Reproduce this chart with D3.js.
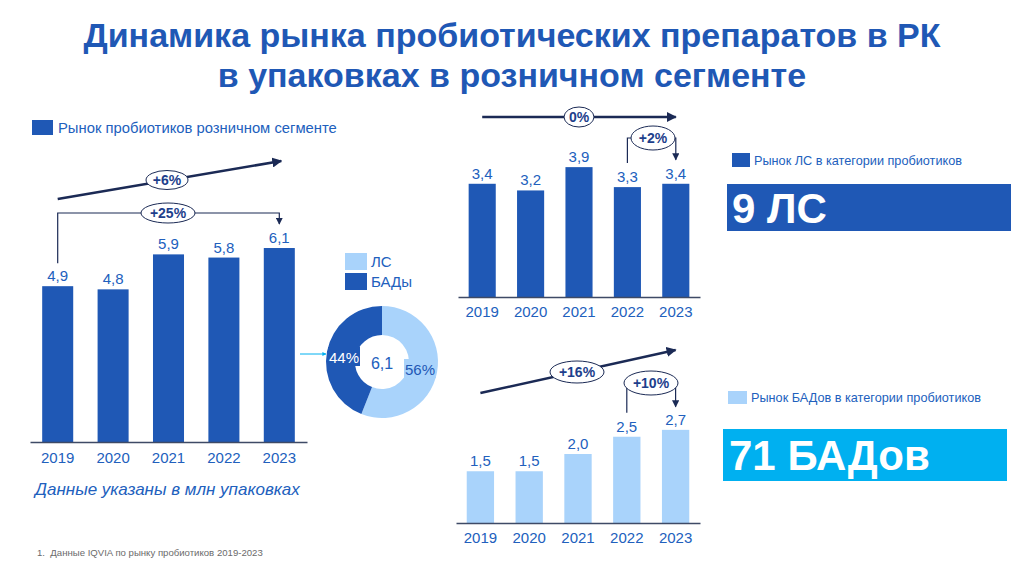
<!DOCTYPE html>
<html>
<head>
<meta charset="utf-8">
<script src="https://cdn.jsdelivr.net/npm/d3@7"></script>
<style>
  html, body { margin: 0; padding: 0; background: #fff; }
  svg { display: block; font-family: "Liberation Sans", Arial, sans-serif; }
</style>
</head>
<body>
<div id="chart"></div>
<script>
// Data
const years = ["2019", "2020", "2021", "2022", "2023"];
const totalValues = [4.9, 4.8, 5.9, 5.8, 6.1];
const lsValues = [3.4, 3.2, 3.9, 3.3, 3.4];
const badValues = [1.5, 1.5, 2.0, 2.5, 2.7];
const shareLabels = ["ЛС", "БАДы"];
const shareValues = [56, 44];
const shareCenter = "6,1";

const darkBlue = "#1f58b5";
const lightBlue = "#a9d3fb";
const textBlue = "#2160bd";
const navy = "#1b2a55";

const svg = d3.select("#chart")
    .append("svg")
    .attr("width", 1024)
    .attr("height", 566);

const defs = svg.append("defs");
function marker(id, color, size) {
    defs.append("marker")
        .attr("id", id)
        .attr("viewBox", "0 0 10 10")
        .attr("refX", 9).attr("refY", 5)
        .attr("markerWidth", size).attr("markerHeight", size)
        .attr("markerUnits", "strokeWidth")
        .attr("orient", "auto")
        .append("path")
        .attr("d", "M0,0 L10,5 L0,10 Z")
        .attr("fill", color);
}
marker("arrowNavy", navy, 4);
marker("arrowCyan", "#00b0f0", 4);
marker("arrowSmall", navy, 6);

// Title
const title = svg.append("g")
    .attr("text-anchor", "middle")
    .style("font-size", "34px")
    .style("font-weight", "bold")
    .style("fill", darkBlue);
title.append("text").attr("x", 512).attr("y", 47)
    .text("Динамика рынка пробиотических препаратов в РК");
title.append("text").attr("x", 512).attr("y", 87)
    .text("в упаковках в розничном сегменте");

// Bar chart helper
function barChart(opts) {
    const g = svg.append("g");
    const x = d3.scaleBand()
        .domain(years)
        .range(opts.xRange)
        .paddingInner(0.44)
        .paddingOuter(0.22);
    const y = d3.scaleLinear()
        .domain([0, opts.yMax])
        .range([opts.base, opts.base - opts.yMax * opts.unit]);

    g.selectAll("rect.bar")
        .data(opts.values)
        .join("rect")
        .attr("class", "bar")
        .attr("x", (d, i) => x(years[i]))
        .attr("width", x.bandwidth())
        .attr("y", d => y(d))
        .attr("height", d => y(0) - y(d))
        .attr("fill", opts.color);

    g.selectAll("text.val")
        .data(opts.values)
        .join("text")
        .attr("class", "val")
        .attr("x", (d, i) => x(years[i]) + x.bandwidth() / 2)
        .attr("y", d => y(d) - 5)
        .attr("text-anchor", "middle")
        .style("font-size", "15px")
        .style("fill", textBlue)
        .text(d => d3.format(".1f")(d).replace(".", ","));

    const axis = g.append("g")
        .attr("transform", `translate(0,${opts.base})`)
        .call(d3.axisBottom(x).tickSize(0).tickPadding(opts.tickPad));
    axis.select(".domain").attr("stroke", "#3e4a66").attr("stroke-width", 1.5);
    axis.selectAll("text")
        .style("font-size", "15px")
        .style("font-family", "Liberation Sans, Arial, sans-serif")
        .style("fill", textBlue);
    return { x, y };
}

function badge(cx, cy, rx, ry, label) {
    svg.append("ellipse")
        .attr("cx", cx).attr("cy", cy)
        .attr("rx", rx).attr("ry", ry)
        .attr("fill", "#fff")
        .attr("stroke", navy)
        .attr("stroke-width", 1);
    svg.append("text")
        .attr("x", cx).attr("y", cy + 5)
        .attr("text-anchor", "middle")
        .style("font-size", "14px")
        .style("font-weight", "bold")
        .style("fill", "#1d3f8c")
        .text(label);
}

function trendArrow(x1, y1, x2, y2) {
    svg.append("line")
        .attr("x1", x1).attr("y1", y1)
        .attr("x2", x2).attr("y2", y2)
        .attr("stroke", navy)
        .attr("stroke-width", 2.5)
        .attr("marker-end", "url(#arrowNavy)");
}

function bracket(xa, ya, xb, yb, top) {
    svg.append("path")
        .attr("d", `M${xa},${ya} V${top} H${xb} V${yb}`)
        .attr("fill", "none")
        .attr("stroke", navy)
        .attr("stroke-width", 1.2)
        .attr("marker-end", "url(#arrowSmall)");
}

// Left chart: total market
const left = barChart({
    values: totalValues, color: darkBlue,
    xRange: [30, 307], base: 442, unit: 31.8, yMax: 7, tickPad: 10
});
svg.append("rect").attr("x", 32).attr("y", 120).attr("width", 21).attr("height", 15).attr("fill", darkBlue);
svg.append("text").attr("x", 58).attr("y", 133)
    .style("font-size", "14.8px").style("fill", textBlue)
    .text("Рынок пробиотиков розничном сегменте");

const lx0 = left.x(years[0]) + left.x.bandwidth() / 2;
const lx4 = left.x(years[4]) + left.x.bandwidth() / 2;
trendArrow(lx0, 199, lx4 + 2, 161);
bracket(lx0, left.y(totalValues[0]) - 23, lx4, left.y(totalValues[4]) - 24, 213);
badge(167, 180, 21, 9.5, "+6%");
badge(168, 213, 27, 10, "+25%");

svg.append("text").attr("x", 35).attr("y", 495)
    .style("font-size", "17px").style("font-style", "italic").style("fill", textBlue)
    .text("Данные указаны в млн упаковках");
svg.append("text").attr("x", 37).attr("y", 556)
    .style("font-size", "9.6px").style("fill", "#6b6b6b")
    .attr("xml:space", "preserve")
    .text("1.  Данные IQVIA по рынку пробиотиков 2019-2023");

// Donut
const pieG = svg.append("g").attr("transform", "translate(382,362)");
const pie = d3.pie().sort(null)(shareValues);
const arc = d3.arc().innerRadius(27).outerRadius(56);
const shareColors = [lightBlue, darkBlue];
pieG.selectAll("path")
    .data(pie)
    .join("path")
    .attr("d", arc)
    .attr("fill", (d, i) => shareColors[i]);
pieG.append("text").attr("x", 0).attr("y", 7)
    .attr("text-anchor", "middle")
    .style("font-size", "16px").style("fill", textBlue)
    .text(shareCenter);
// slice labels
const lblPos = [[38, 7], [-38, -5]];
pie.forEach((d, i) => {
    const txt = shareValues[i] + "%";
    const [px, py] = lblPos[i];
    pieG.append("rect")
        .attr("x", px - 16).attr("y", py - 10)
        .attr("width", 32).attr("height", 19)
        .attr("fill", shareColors[i]);
    pieG.append("text")
        .attr("x", px).attr("y", py + 5.5)
        .attr("text-anchor", "middle")
        .style("font-size", "15px")
        .style("fill", i === 0 ? darkBlue : "#fff")
        .text(txt);
});
// donut legend
shareLabels.forEach((lab, i) => {
    svg.append("rect").attr("x", 345).attr("y", 253 + i * 20)
        .attr("width", 22).attr("height", 17).attr("fill", shareColors[i]);
    svg.append("text").attr("x", 371).attr("y", 267 + i * 20)
        .style("font-size", "15px").style("fill", textBlue)
        .text(lab);
});
svg.append("line")
    .attr("x1", 300).attr("y1", 354).attr("x2", 326).attr("y2", 354)
    .attr("stroke", "#00b0f0").attr("stroke-width", 1)
    .attr("marker-end", "url(#arrowCyan)");

// Top-right chart: LS
const ls = barChart({
    values: lsValues, color: darkBlue,
    xRange: [458, 700], base: 297, unit: 33.3, yMax: 4, tickPad: 9
});
const tx0 = ls.x(years[0]) + ls.x.bandwidth() / 2;
const tx3 = ls.x(years[3]) + ls.x.bandwidth() / 2;
const tx4 = ls.x(years[4]) + ls.x.bandwidth() / 2;
trendArrow(tx0, 117, tx4, 117);
bracket(tx3, ls.y(lsValues[3]) - 24, tx4, ls.y(lsValues[4]) - 24, 138);
badge(579, 117, 15, 10, "0%");
badge(653, 138, 22, 12, "+2%");

svg.append("rect").attr("x", 732).attr("y", 153).attr("width", 18).attr("height", 14).attr("fill", darkBlue);
svg.append("text").attr("x", 754).attr("y", 165)
    .style("font-size", "12.7px").style("fill", textBlue)
    .text("Рынок ЛС в категории пробиотиков");
svg.append("rect").attr("x", 727).attr("y", 184).attr("width", 284).attr("height", 47).attr("fill", darkBlue);
svg.append("text").attr("x", 732).attr("y", 223)
    .style("font-size", "42px").style("font-weight", "bold").style("fill", "#fff")
    .text("9 ЛС");

// Bottom-right chart: BAD
const bad = barChart({
    values: badValues, color: lightBlue,
    xRange: [456, 700], base: 523, unit: 34.5, yMax: 3, tickPad: 9
});
const bx0 = bad.x(years[0]) + bad.x.bandwidth() / 2;
const bx3 = bad.x(years[3]) + bad.x.bandwidth() / 2;
const bx4 = bad.x(years[4]) + bad.x.bandwidth() / 2;
trendArrow(bx0, 393, bx4, 350);
bracket(bx3, bad.y(badValues[3]) - 24, bx4, bad.y(badValues[4]) - 23, 383);
badge(577, 372, 27, 11, "+16%");
badge(651, 383, 27, 12, "+10%");

svg.append("rect").attr("x", 728).attr("y", 391).attr("width", 19).attr("height", 13).attr("fill", lightBlue);
svg.append("text").attr("x", 751).attr("y", 402)
    .style("font-size", "12.7px").style("fill", textBlue)
    .text("Рынок БАДов в категории пробиотиков");
svg.append("rect").attr("x", 723).attr("y", 429).attr("width", 284).attr("height", 52).attr("fill", "#00b0f0");
svg.append("text").attr("x", 729).attr("y", 470)
    .style("font-size", "42px").style("font-weight", "bold").style("fill", "#fff")
    .text("71 БАДов");
</script>
</body>
</html>
